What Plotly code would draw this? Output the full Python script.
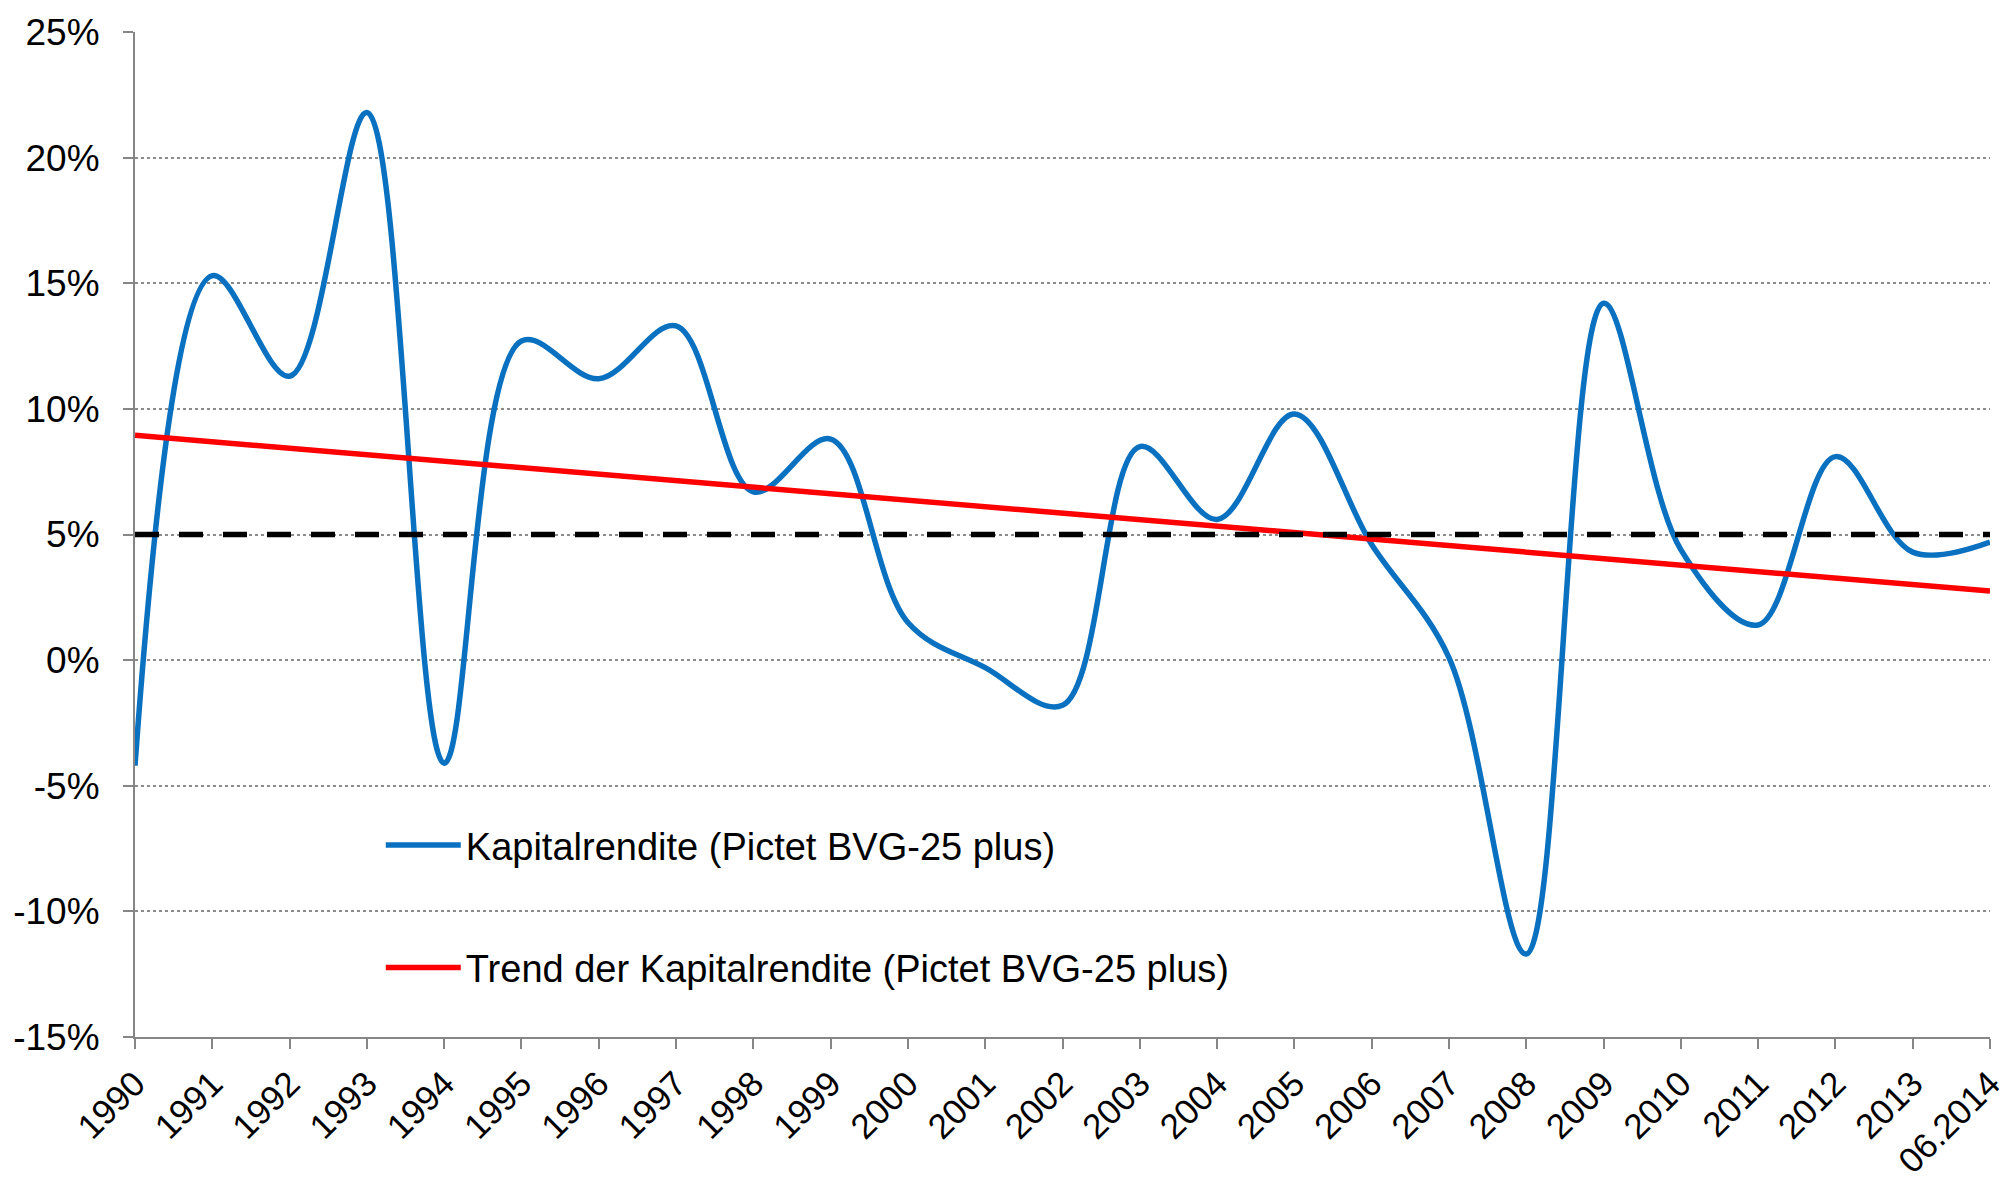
import plotly.graph_objects as go

# ---- data ----
years = ["1990", "1991", "1992", "1993", "1994", "1995", "1996", "1997", "1998",
         "1999", "2000", "2001", "2002", "2003", "2004", "2005", "2006", "2007",
         "2008", "2009", "2010", "2011", "2012", "2013", "06.2014"]
kapitalrendite = [-4.2, 15.3, 11.3, 21.8, -4.1, 12.7, 11.2, 13.3, 6.7,
                  8.8, 1.5, -0.3, -1.8, 8.5, 5.6, 9.8, 4.6, 0.1,
                  -11.7, 14.2, 4.4, 1.4, 8.1, 4.3, 4.7]
trend_x = ["1990", "06.2014"]
trend_y = [8.95, 2.75]
target_x = ["1990", "06.2014"]
target_y = [5.0, 5.0]
y_ticks = [-15, -10, -5, 0, 5, 10, 15, 20, 25]
y_ticktext = ["-15%", "-10%", "-5%", "0%", "5%", "10%", "15%", "20%", "25%"]

FONT = "Liberation Sans, Arial, sans-serif"

fig = go.Figure()
fig.add_trace(go.Scatter(
    x=years, y=kapitalrendite, mode="lines",
    name="Kapitalrendite (Pictet BVG-25 plus)",
    legendgroup="a",
    line=dict(color="#0A70C0", width=5.5, shape="spline", smoothing=1.0),
))
fig.add_trace(go.Scatter(
    x=trend_x, y=trend_y, mode="lines",
    name="Trend der Kapitalrendite (Pictet BVG-25 plus)",
    legendgroup="b",
    line=dict(color="#FF0000", width=5.5),
))
fig.add_trace(go.Scatter(
    x=target_x, y=target_y, mode="lines", showlegend=False,
    line=dict(color="#000000", width=5.5, dash="24px,20px"),
))

# the page adds an 8px body margin, so margins are offset to keep the plot area in place
fig.update_layout(
    width=2007, height=1193,
    margin=dict(l=127, r=25, t=24, b=164),
    paper_bgcolor="white", plot_bgcolor="white",
    font=dict(family=FONT, size=36, color="#000000"),
    showlegend=True,
    legend=dict(
        x=0.1325, y=0.222, xanchor="left", yanchor="top",
        bgcolor="rgba(0,0,0,0)", font=dict(size=38, family=FONT),
        tracegroupgap=70, traceorder="grouped", itemwidth=75,
    ),
)
fig.update_xaxes(
    type="category", categoryorder="array", categoryarray=years,
    range=[0, len(years) - 1], automargin=False,
    showgrid=False, zeroline=False,
    showline=True, linecolor="#868686", linewidth=2,
    ticks="outside", ticklen=10, tickcolor="#868686", tickwidth=2,
    tickangle=-45, tickfont=dict(size=35, family=FONT),
)
fig.update_yaxes(
    range=[-15, 25], tickvals=y_ticks, ticktext=y_ticktext, automargin=False,
    showgrid=True, gridcolor="#8c8c8c", gridwidth=2, griddash="dot",
    zeroline=False,
    showline=True, linecolor="#868686", linewidth=2,
    ticks="outside", ticklen=10, tickcolor="#868686", tickwidth=2,
    ticklabelstandoff=16, tickfont=dict(size=37, family=FONT),
)

fig.write_html("out.html")
